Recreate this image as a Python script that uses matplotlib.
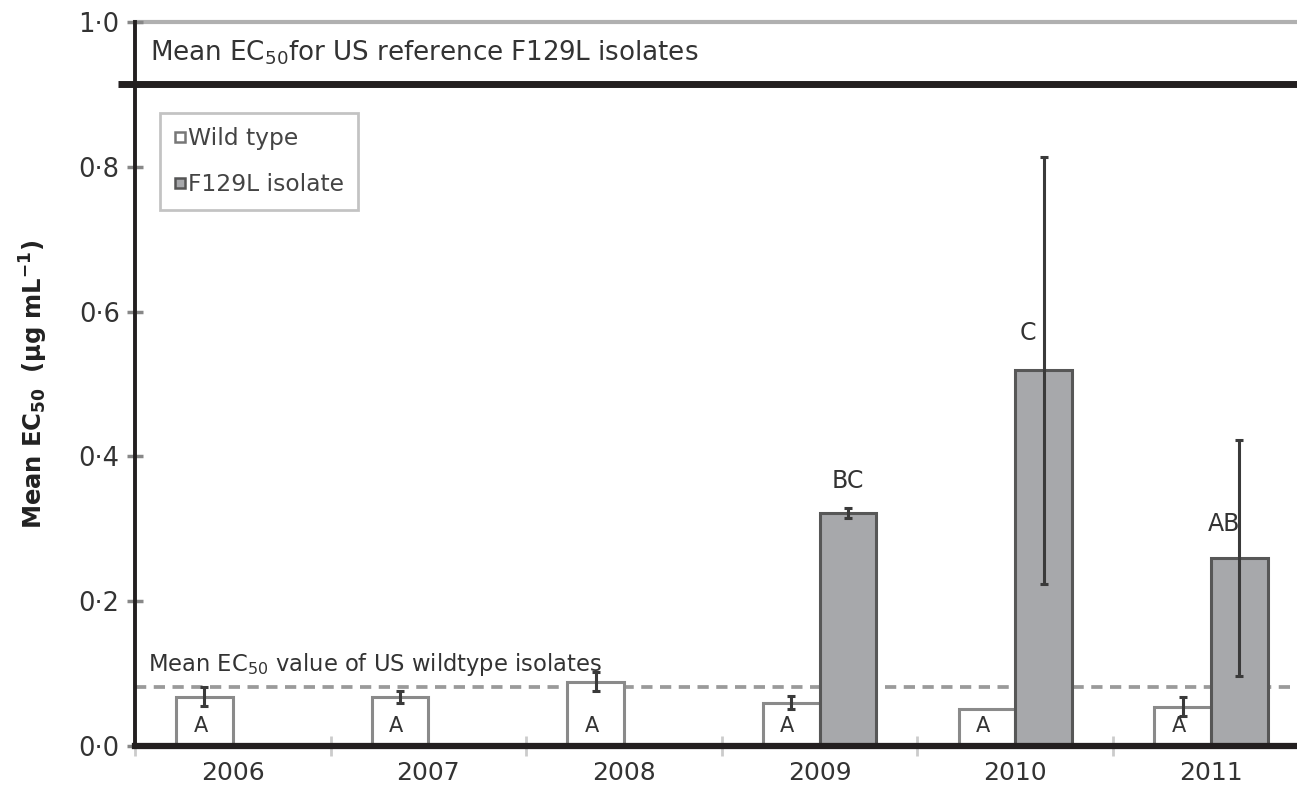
import matplotlib
matplotlib.use("Agg")
import matplotlib.pyplot as plt
import numpy as np
from matplotlib.lines import Line2D
import matplotlib.transforms as mtransforms

years = ["2006", "2007", "2008", "2009", "2010", "2011"]
wt_mean = [0.068, 0.068, 0.089, 0.060, 0.051, 0.054]
wt_err = [0.013, 0.008, 0.013, 0.009, 0.0, 0.013]
f129_years = ["2009", "2010", "2011"]
f129_mean = [0.322, 0.519, 0.259]
f129_err = [0.007, 0.295, 0.163]
wt_letters = ["A", "A", "A", "A", "A", "A"]
f129_letters = ["BC", "C", "AB"]
ref_f129 = 0.915
ref_wt = 0.082
yticks = [0.0, 0.2, 0.4, 0.6, 0.8, 1.0]
ytick_labels = ["0·0", "0·2", "0·4", "0·6", "0·8", "1·0"]

plt.rcParams['font.family'] = ['DejaVu Sans']

fig = plt.figure(figsize=(12.97, 7.91), dpi=100)
ax = fig.add_axes([135/1297, 45/791, 1 - 135/1297, (746-22)/791])

x = np.arange(len(years))
w = 0.29
xf = np.array([years.index(y) for y in f129_years])
wt_m = np.array(wt_mean)
wt_e = np.array(wt_err)
has_err = wt_e > 0

ax.bar(x - w/2, wt_mean, width=w, color="white", edgecolor="#8a8a8a", linewidth=2.2, zorder=2)
ax.errorbar((x - w/2)[has_err], wt_m[has_err], yerr=wt_e[has_err], fmt="none", ecolor="#3a3a3a",
            elinewidth=2.2, capsize=3, capthick=2.2, zorder=3)
ax.bar(xf + w/2, f129_mean, width=w, color="#a7a8ab", edgecolor="#575757", linewidth=2.2, zorder=2)
ax.errorbar(xf + w/2, f129_mean, yerr=f129_err, fmt="none", ecolor="#3a3a3a", elinewidth=2.2,
            capsize=3, capthick=2.2, zorder=3)

for xi, l in zip(x, wt_letters):
    ax.text(xi - w/2 - 0.02, 0.027, l, ha="center", va="center", fontsize=15, color="#333333", zorder=4)
for xi, m, e, l in zip(xf, f129_mean, f129_err, f129_letters):
    if e < 0.05:
        yy = m + e + 0.037
        xo = 0
    else:
        yy = m + 0.048 if m < 0.4 else m + 0.052
        xo = -0.08
    ax.text(xi + w/2 + xo, yy, l, ha="center", va="center", fontsize=17, color="#333333", zorder=4)

# reference lines
ax.axhline(ref_wt, color="#9a9a9a", linestyle=(0, (3, 2)), linewidth=2.7, zorder=1)
trans = mtransforms.blended_transform_factory(ax.transAxes, ax.transData)
ax.plot([-0.015, 1.0], [ref_f129, ref_f129], transform=trans, color="#231f20",
        linewidth=5, clip_on=False, zorder=5, solid_capstyle="butt")
ax.axhline(1.0, color="#b0b0b0", linewidth=3, zorder=1, clip_on=False)

ax.text(0.013, 0.958, r"Mean EC$_{50}$for US reference F129L isolates", transform=trans,
        fontsize=18.8, color="#333333", va="center", ha="left")
ax.text(0.011, 0.113, r"Mean EC$_{50}$ value of US wildtype isolates", transform=trans,
        fontsize=16.3, color="#333333", va="center", ha="left")

ax.set_xlim(-0.5, 5.44)
ax.set_ylim(0, 1.0)

for s in ["top", "right"]:
    ax.spines[s].set_visible(False)
ax.spines["left"].set_linewidth(2.8)
ax.spines["left"].set_color("#231f20")
ax.spines["bottom"].set_linewidth(4.5)
ax.spines["bottom"].set_color("#231f20")

ax.set_yticks(yticks)
ax.set_yticklabels(ytick_labels, fontsize=18.5, color="#333333")
ax.tick_params(axis="y", direction="inout", length=12, width=2.5, color="#888888", pad=5)
ax.set_xticks(x)
ax.set_xticklabels(years, fontsize=18, color="#333333")
ax.tick_params(axis="x", length=0, pad=11)
ax.set_xticks(np.arange(-0.5, 5.5, 1.0), minor=True)
ax.tick_params(axis="x", which="minor", direction="inout", length=14, width=2, color="#cccccc")

ax.set_ylabel(r"$\mathbf{Mean\ EC_{50}}$  $\mathbf{(\mu g\ mL^{-1})}$", fontsize=17.5, color="#222222")
ax.yaxis.set_label_coords((50 - 135) / 1162, 0.5)

handles = [Line2D([], [], marker="s", linestyle="none", markersize=7, markerfacecolor="white",
                  markeredgecolor="#777777", markeredgewidth=1.8),
           Line2D([], [], marker="s", linestyle="none", markersize=7, markerfacecolor="#a7a8ab",
                  markeredgecolor="#555555", markeredgewidth=1.8)]
leg = ax.legend(handles, ["Wild type", "F129L isolate"], loc="upper left",
                bbox_to_anchor=(25/1162, (746-113)/724), fontsize=16.8, frameon=True,
                fancybox=False, edgecolor="#b5b5b5", handlelength=0.5, handletextpad=0.1,
                borderpad=0.6, labelspacing=1.0, borderaxespad=0)
leg.get_frame().set_linewidth(2)
for t in leg.get_texts():
    t.set_color("#444444")

fig.savefig("out.png", dpi=100)
